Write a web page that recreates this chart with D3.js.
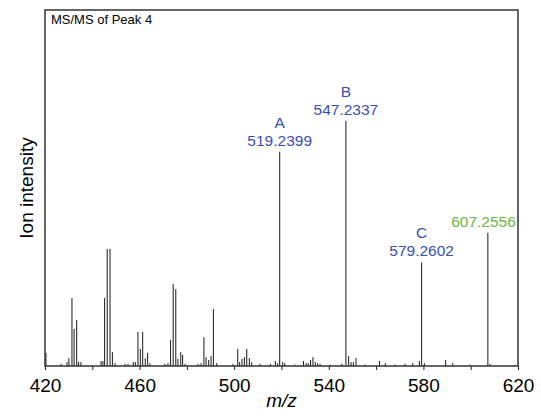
<!DOCTYPE html>
<html>
<head>
<meta charset="utf-8">
<script src="https://cdn.jsdelivr.net/npm/d3@7"></script>
<style>
  body { margin: 0; background: #fff; }
  svg { display: block; font-family: Arial, "Liberation Sans", sans-serif; }
</style>
</head>
<body>
<svg id="chart"></svg>
<script>
// peak list (m/z, relative intensity, 100 = top of frame)
var peakMz = [
  420.4, 426.8, 429.3, 430.1, 431.4, 432.3, 433.4, 434.2, 435.2,
  443.7, 444.5, 445.2, 446.3, 447.5, 448.5, 449.6, 453.8, 455.1, 457.3, 458.2,
  459.3, 460.3, 461.3, 462.4, 463.4, 464.4, 470.7, 472.0,
  473.1, 474.2, 475.3, 476.2, 477.4, 478.2, 479.2, 484.7,
  486.0, 487.2, 488.1, 489.2, 490.2, 491.2, 492.6, 499.5,
  501.5, 502.3, 503.3, 504.3, 505.3, 506.4, 507.4, 510.9,
  515.3, 517.4, 518.4, 519.2399, 520.5, 521.4, 525.7,
  529.3, 530.4, 531.3, 532.3, 533.3, 534.3, 535.3, 536.3, 540.5,
  545.5, 547.2337, 548.4, 549.4, 550.4, 551.5, 555.3,
  561.4, 563.9, 568.0, 572.2, 575.5, 578.3, 579.2602, 580.4,
  589.4, 592.4, 599.7, 607.2556, 608.2
];
var peakIntensity = [
  3.7, 0.6, 1.1, 2.2, 19.1, 10.4, 12.9, 1.1, 1.1,
  1.4, 1.4, 19.1, 32.9, 32.9, 3.9, 0.8, 0.6, 0.6, 1.1, 1.1,
  9.6, 4.8, 9.6, 2.2, 3.7, 0.8, 0.6, 0.8,
  7.3, 23.0, 21.6, 2.0, 3.9, 3.1, 0.6, 0.6,
  0.8, 8.1, 2.5, 1.7, 2.8, 16.0, 0.8, 0.6,
  4.8, 1.1, 2.0, 2.5, 4.8, 2.2, 1.1, 0.6,
  0.6, 1.4, 0.8, 60.2, 1.1, 0.8, 0.4,
  1.4, 0.8, 0.8, 1.7, 2.5, 1.1, 0.8, 0.6, 0.4,
  0.6, 68.9, 2.8, 1.1, 1.1, 2.2, 0.4,
  1.4, 0.8, 0.4, 0.6, 0.8, 1.4, 29.1, 0.8,
  1.7, 0.8, 0.4, 37.4, 0.6
];

// annotated fragments
var labelMz = [519.2399, 547.2337, 579.2602, 607.2556];
var labelLetter = ["A", "B", "C", ""];
var labelText = ["519.2399", "547.2337", "579.2602", "607.2556"];

var tickValues = [420, 440, 460, 480, 500, 520, 540, 560, 580, 600, 620];
var tickLabels = [420, 460, 500, 540, 580, 620];

var width = 541, height = 420;
var margin = {top: 10, right: 23, bottom: 54, left: 45};

var svg = d3.select("#chart").attr("width", width).attr("height", height);

var x = d3.scaleLinear()
  .domain([420, 620])
  .range([margin.left, width - margin.right]);

var y = d3.scaleLinear()
  .domain([0, 100])
  .range([height - margin.bottom, margin.top]);

var peaks = peakMz.map(function (m, i) { return {mz: m, v: peakIntensity[i]}; });

// sticks
svg.append("g")
  .selectAll("line")
  .data(peaks)
  .enter()
  .append("line")
  .attr("x1", function (d) { return x(d.mz); })
  .attr("x2", function (d) { return x(d.mz); })
  .attr("y1", y(0))
  .attr("y2", function (d) { return y(d.v); })
  .attr("stroke", "#1a1a1a")
  .attr("stroke-width", 1);

// x axis (ticks point down, labels every 40)
var xAxis = d3.axisBottom(x)
  .tickValues(tickValues)
  .tickSize(4)
  .tickFormat(function (d) { return tickLabels.indexOf(d) >= 0 ? d : ""; });

var gx = svg.append("g")
  .attr("transform", "translate(0," + y(0) + ")")
  .call(xAxis);
gx.select(".domain").remove();
gx.selectAll(".tick line").attr("stroke", "#222");
gx.selectAll(".tick text")
  .attr("dy", 0)
  .attr("y", 26)
  .attr("fill", "#000")
  .style("font-size", "19px")
  .style("font-family", "Arial, 'Liberation Sans', sans-serif");

// frame
svg.append("rect")
  .attr("x", x(420))
  .attr("y", y(100))
  .attr("width", x(620) - x(420))
  .attr("height", y(0) - y(100))
  .attr("fill", "none")
  .attr("stroke", "#333")
  .attr("stroke-width", 1.5);

// titles
svg.append("text")
  .attr("x", 51)
  .attr("y", 24)
  .style("font-size", "13px")
  .text("MS/MS of Peak 4");

svg.append("text")
  .attr("x", (x(420) + x(620)) / 2)
  .attr("y", 407)
  .attr("text-anchor", "middle")
  .style("font-size", "19px")
  .style("font-style", "italic")
  .text("m/z");

svg.append("text")
  .attr("transform", "translate(33," + ((y(0) + y(100)) / 2) + ") rotate(-90)")
  .attr("text-anchor", "middle")
  .style("font-size", "19px")
  .text("Ion intensity");

// peak annotations
var blue = "#3b4fae", green = "#6db447";
var ann = svg.append("g").selectAll("g")
  .data(labelMz)
  .enter()
  .append("g");

ann.append("text")
  .attr("x", function (d) { return x(d); })
  .attr("y", function (d, i) { return y(peakIntensity[peakMz.indexOf(d)]) - 24; })
  .attr("text-anchor", "middle")
  .attr("fill", blue)
  .style("font-size", "15.5px")
  .text(function (d, i) { return labelLetter[i]; });

ann.append("text")
  .attr("x", function (d, i) { return labelLetter[i] ? x(d) : x(d) + 28; })
  .attr("y", function (d) { return y(peakIntensity[peakMz.indexOf(d)]) - 6; })
  .attr("text-anchor", function (d, i) { return labelLetter[i] ? "middle" : "end"; })
  .attr("fill", function (d, i) { return labelLetter[i] ? blue : green; })
  .style("font-size", "15.5px")
  .text(function (d, i) { return labelText[i]; });
</script>
</body>
</html>
